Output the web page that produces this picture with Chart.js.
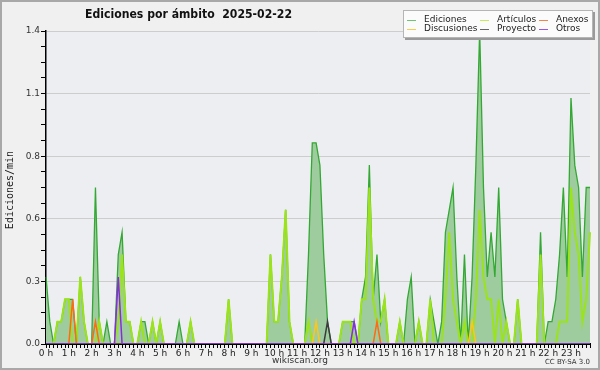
<!DOCTYPE html>
<html>
<head>
<meta charset="utf-8">
<script src="https://cdn.jsdelivr.net/npm/chart.js@4.4.1/dist/chart.umd.min.js"></script>
<style>
html, body { margin: 0; padding: 0; background: #f0f0f0; }
#wrap { width: 600px; height: 370px; }
</style>
</head>
<body>
<div id="wrap"><canvas id="grafico" width="600" height="370"></canvas></div>
<script>
// Etiquetas de hora (una cada 6 intervalos de 10 min)
const horas = ['0 h', '1 h', '2 h', '3 h', '4 h', '5 h', '6 h', '7 h', '8 h', '9 h', '10 h', '11 h',
    '12 h', '13 h', '14 h', '15 h', '16 h', '17 h', '18 h', '19 h', '20 h', '21 h', '22 h', '23 h'];

// Valores por intervalo de 10 minutos (ediciones/min), 12 valores = 2 horas por línea
const ediciones = [
    0.3, 0.1, 0, 0.1, 0.1, 0.2, 0.2, 0.2, 0, 0.3, 0.1, 0,
    0, 0.7, 0.1, 0, 0.1, 0, 0, 0.4, 0.5, 0.1, 0.1, 0,
    0, 0.1, 0.1, 0, 0.1, 0, 0.1, 0, 0, 0, 0, 0.1,
    0, 0, 0.1, 0, 0, 0, 0, 0, 0, 0, 0, 0,
    0.2, 0, 0, 0, 0, 0, 0, 0, 0, 0, 0, 0.4,
    0.1, 0.1, 0.3, 0.6, 0.1, 0, 0, 0, 0, 0.4, 0.9, 0.9,
    0.8, 0.4, 0.1, 0, 0, 0, 0.1, 0.1, 0.1, 0.1, 0, 0.2,
    0.3, 0.8, 0.2, 0.4, 0.1, 0.2, 0, 0, 0, 0.1, 0, 0.2,
    0.3, 0, 0.1, 0, 0, 0.2, 0.1, 0, 0.1, 0.5, 0.6, 0.7,
    0.3, 0, 0.4, 0, 0.3, 0.8, 1.4, 0.7, 0.3, 0.5, 0.3, 0.7,
    0.2, 0.1, 0, 0, 0.2, 0, 0, 0, 0, 0, 0.5, 0,
    0.1, 0.1, 0.2, 0.4, 0.7, 0.3, 1.1, 0.8, 0.7, 0.3, 0.7, 0.7
];
const articulos = [
    0, 0, 0, 0.1, 0.1, 0.2, 0.2, 0, 0, 0.3, 0.1, 0,
    0, 0, 0.1, 0, 0, 0, 0, 0.1, 0.4, 0.1, 0.1, 0,
    0, 0.1, 0, 0, 0.1, 0, 0.1, 0, 0, 0, 0, 0,
    0, 0, 0.1, 0, 0, 0, 0, 0, 0, 0, 0, 0,
    0.2, 0, 0, 0, 0, 0, 0, 0, 0, 0, 0, 0.4,
    0.1, 0.1, 0.3, 0.6, 0.1, 0, 0, 0, 0, 0.1, 0, 0,
    0, 0, 0, 0, 0, 0, 0.1, 0.1, 0.1, 0, 0, 0.2,
    0.2, 0.7, 0.2, 0.1, 0.1, 0.2, 0, 0, 0, 0.1, 0, 0,
    0, 0, 0.1, 0, 0, 0.2, 0, 0, 0, 0.2, 0.5, 0.2,
    0.1, 0, 0.1, 0, 0, 0.2, 0.6, 0.3, 0.2, 0.2, 0, 0.2,
    0, 0.1, 0, 0, 0.2, 0, 0, 0, 0, 0, 0.4, 0,
    0, 0, 0, 0.1, 0.1, 0.1, 0.7, 0.5, 0.4, 0.1, 0.2, 0.5
];
const anexos = [
    0, 0, 0, 0, 0, 0, 0, 0.2, 0, 0, 0, 0,
    0, 0.1, 0, 0, 0, 0, 0, 0, 0, 0, 0, 0,
    0, 0, 0, 0, 0, 0, 0, 0, 0, 0, 0, 0,
    0, 0, 0, 0, 0, 0, 0, 0, 0, 0, 0, 0,
    0, 0, 0, 0, 0, 0, 0, 0, 0, 0, 0, 0,
    0, 0, 0, 0, 0, 0, 0, 0, 0, 0, 0, 0,
    0, 0, 0, 0, 0, 0, 0, 0, 0, 0, 0, 0,
    0, 0, 0, 0.1, 0, 0, 0, 0, 0, 0, 0, 0,
    0, 0, 0, 0, 0, 0, 0, 0, 0, 0, 0, 0,
    0, 0, 0, 0, 0, 0, 0, 0, 0, 0, 0, 0,
    0, 0, 0, 0, 0, 0, 0, 0, 0, 0, 0, 0,
    0, 0, 0, 0, 0, 0, 0, 0, 0, 0, 0, 0
];
const discusiones = [
    0, 0, 0, 0, 0, 0, 0, 0, 0, 0, 0, 0,
    0, 0, 0, 0, 0, 0, 0, 0, 0, 0, 0, 0,
    0, 0, 0, 0, 0, 0, 0, 0, 0, 0, 0, 0,
    0, 0, 0, 0, 0, 0, 0, 0, 0, 0, 0, 0,
    0, 0, 0, 0, 0, 0, 0, 0, 0, 0, 0, 0,
    0, 0, 0, 0, 0, 0, 0, 0, 0, 0, 0, 0.1,
    0, 0, 0, 0, 0, 0, 0, 0, 0, 0, 0, 0,
    0, 0, 0, 0, 0, 0, 0, 0, 0, 0, 0, 0,
    0, 0, 0, 0, 0, 0, 0, 0, 0, 0, 0, 0,
    0, 0, 0, 0, 0.1, 0, 0, 0, 0, 0, 0, 0,
    0, 0, 0, 0, 0, 0, 0, 0, 0, 0, 0, 0,
    0, 0, 0, 0, 0, 0, 0, 0, 0, 0, 0, 0
];
const proyecto = [
    0, 0, 0, 0, 0, 0, 0, 0, 0, 0, 0, 0,
    0, 0, 0, 0, 0, 0, 0, 0, 0, 0, 0, 0,
    0, 0, 0, 0, 0, 0, 0, 0, 0, 0, 0, 0,
    0, 0, 0, 0, 0, 0, 0, 0, 0, 0, 0, 0,
    0, 0, 0, 0, 0, 0, 0, 0, 0, 0, 0, 0,
    0, 0, 0, 0, 0, 0, 0, 0, 0, 0, 0, 0,
    0, 0, 0.1, 0, 0, 0, 0, 0, 0, 0, 0, 0,
    0, 0, 0, 0, 0, 0, 0, 0, 0, 0, 0, 0,
    0, 0, 0, 0, 0, 0, 0, 0, 0, 0, 0, 0,
    0, 0, 0, 0, 0, 0, 0, 0, 0, 0, 0, 0,
    0, 0, 0, 0, 0, 0, 0, 0, 0, 0, 0, 0,
    0, 0, 0, 0, 0, 0, 0, 0, 0, 0, 0, 0
];
const otros = [
    0, 0, 0, 0, 0, 0, 0, 0, 0, 0, 0, 0,
    0, 0, 0, 0, 0, 0, 0, 0.3, 0, 0, 0, 0,
    0, 0, 0, 0, 0, 0, 0, 0, 0, 0, 0, 0,
    0, 0, 0, 0, 0, 0, 0, 0, 0, 0, 0, 0,
    0, 0, 0, 0, 0, 0, 0, 0, 0, 0, 0, 0,
    0, 0, 0, 0, 0, 0, 0, 0, 0, 0, 0, 0,
    0, 0, 0, 0, 0, 0, 0, 0, 0, 0.1, 0, 0,
    0, 0, 0, 0, 0, 0, 0, 0, 0, 0, 0, 0,
    0, 0, 0, 0, 0, 0, 0, 0, 0, 0, 0, 0,
    0, 0, 0, 0, 0, 0, 0, 0, 0, 0, 0, 0,
    0, 0, 0, 0, 0, 0, 0, 0, 0, 0, 0, 0,
    0, 0, 0, 0, 0, 0, 0, 0, 0, 0, 0, 0
];

const titulo = 'Ediciones por ámbito  2025-02-22';
const tituloEje = 'Ediciones/min';

// 6 casillas por hora, la primera lleva la etiqueta
const etiquetas = [];
horas.forEach(h => etiquetas.push(h, '', '', '', '', ''));

const series = [
    { nombre: 'Ediciones', datos: ediciones, color: '#33a833', leyenda: '#70c470', ancho: 1.3 },
    { nombre: 'Artículos', datos: articulos, color: '#9be31a', leyenda: '#c6ea5a', ancho: 2 },
    { nombre: 'Anexos', datos: anexos, color: '#ff6a13', leyenda: '#f0844a', ancho: 1.5 },
    { nombre: 'Discusiones', datos: discusiones, color: '#ffc61a', leyenda: '#f5cf4a', ancho: 1.5 },
    { nombre: 'Proyecto', datos: proyecto, color: '#3c3c3c', leyenda: '#666666', ancho: 1.5 },
    { nombre: 'Otros', datos: otros, color: '#8a2be2', leyenda: '#9955e6', ancho: 1.5 }
];

// Fondo, leyenda y textos
const decorado = {
    id: 'decorado',
    beforeDraw(chart) {
        const ctx = chart.ctx;
        const a = chart.chartArea;
        ctx.save();
        ctx.fillStyle = '#f0f0f0';
        ctx.fillRect(0, 0, chart.width, chart.height);
        ctx.strokeStyle = '#a8a8a8';
        ctx.lineWidth = 2;
        ctx.strokeRect(1, 1, chart.width - 2, chart.height - 2);
        ctx.fillStyle = '#eceef1';
        ctx.fillRect(a.left, a.top, a.right - a.left, a.bottom - a.top);
        ctx.restore();
    },
    afterDraw(chart) {
        const ctx = chart.ctx;
        ctx.save();

        // título
        ctx.fillStyle = '#111';
        ctx.font = 'bold 13px "DejaVu Sans"';
        ctx.textBaseline = 'middle';
        const w = ctx.measureText(titulo).width;
        const esc = Math.min(1, 207 / w);
        ctx.save();
        ctx.translate(85, 15);
        ctx.scale(esc, 1);
        ctx.textAlign = 'left';
        ctx.fillText(titulo, 0, 0);
        ctx.restore();

        // título del eje Y
        ctx.save();
        ctx.translate(10, 190);
        ctx.rotate(-Math.PI / 2);
        ctx.font = '10px "DejaVu Sans Mono"';
        ctx.textAlign = 'center';
        ctx.fillStyle = '#222';
        ctx.fillText(tituloEje, 0, 0);
        ctx.restore();

        // leyenda
        ctx.fillStyle = '#9a9a9a';
        ctx.fillRect(405, 12, 190, 28);
        ctx.fillStyle = '#fbfbfb';
        ctx.fillRect(403.5, 10.5, 189, 27);
        ctx.strokeStyle = '#b5b5b5';
        ctx.lineWidth = 1;
        ctx.strokeRect(403.5, 10.5, 189, 27);
        const colX = [407, 480, 539];
        const filaY = [19.5, 29];
        ctx.font = '9px "DejaVu Sans"';
        ctx.textAlign = 'left';
        ctx.textBaseline = 'middle';
        series.forEach((s, k) => {
            const cx = colX[k % 3];
            const cy = filaY[Math.floor(k / 3)];
            ctx.strokeStyle = s.leyenda;
            ctx.lineWidth = 1;
            ctx.beginPath();
            ctx.moveTo(cx, Math.round(cy) + 0.5);
            ctx.lineTo(cx + 9, Math.round(cy) + 0.5);
            ctx.stroke();
            ctx.fillStyle = '#222';
            ctx.fillText(s.nombre, cx + 17, cy);
        });

        // pie
        ctx.fillStyle = '#333';
        ctx.font = '9px "DejaVu Sans"';
        ctx.textAlign = 'center';
        ctx.fillText('wikiscan.org', 300, 361);
        ctx.font = '7px "DejaVu Sans"';
        ctx.textAlign = 'right';
        ctx.fillText('CC BY-SA 3.0', 590, 362);
        ctx.restore();
    }
};

const ctx = document.getElementById('grafico').getContext('2d');
new Chart(ctx, {
    type: 'line',
    data: {
        labels: etiquetas,
        datasets: series.map((s, k) => ({
            label: s.nombre,
            data: s.datos,
            borderColor: s.color,
            backgroundColor: k === 0 ? '#9ecc9e' : s.color,
            borderWidth: s.ancho,
            fill: k === 0 ? 'origin' : false,
            pointRadius: 0,
            tension: 0,
            order: 10 - k
        }))
    },
    options: {
        responsive: false,
        animation: false,
        events: [],
        layout: { padding: { top: 31, right: 10, left: 0, bottom: 0 } },
        plugins: {
            legend: { display: false },
            tooltip: { enabled: false },
            title: { display: false }
        },
        scales: {
            x: {
                z: 1,
                afterFit: s => { s.height = 26; },
                grid: { display: true, drawOnChartArea: false, tickLength: 4, tickColor: '#000', tickWidth: 1 },
                border: { display: true, color: '#000', width: 2 },
                ticks: {
                    autoSkip: false,
                    maxRotation: 0,
                    minRotation: 0,
                    padding: 0,
                    color: '#222',
                    font: { family: 'DejaVu Sans', size: 9 },
                    callback: function (v) { return this.getLabelForValue(v); }
                }
            },
            y: {
                z: 1,
                min: 0,
                max: 1.4,
                afterFit: s => { s.width = 46; },
                grid: {
                    color: c => (c.index % 4 === 0 ? '#cdcdcd' : 'rgba(0,0,0,0)'),
                    tickColor: '#000',
                    tickLength: 5,
                    lineWidth: 1
                },
                border: { display: true, color: '#000', width: 1.5 },
                ticks: {
                    stepSize: 0.07,
                    maxTicksLimit: 50,
                    padding: 1,
                    color: '#333',
                    font: { family: 'DejaVu Sans', size: 9 },
                    callback: (v, i) => (i % 4 === 0 ? v.toFixed(1) : '')
                }
            }
        }
    },
    plugins: [decorado]
});
</script>
</body>
</html>
